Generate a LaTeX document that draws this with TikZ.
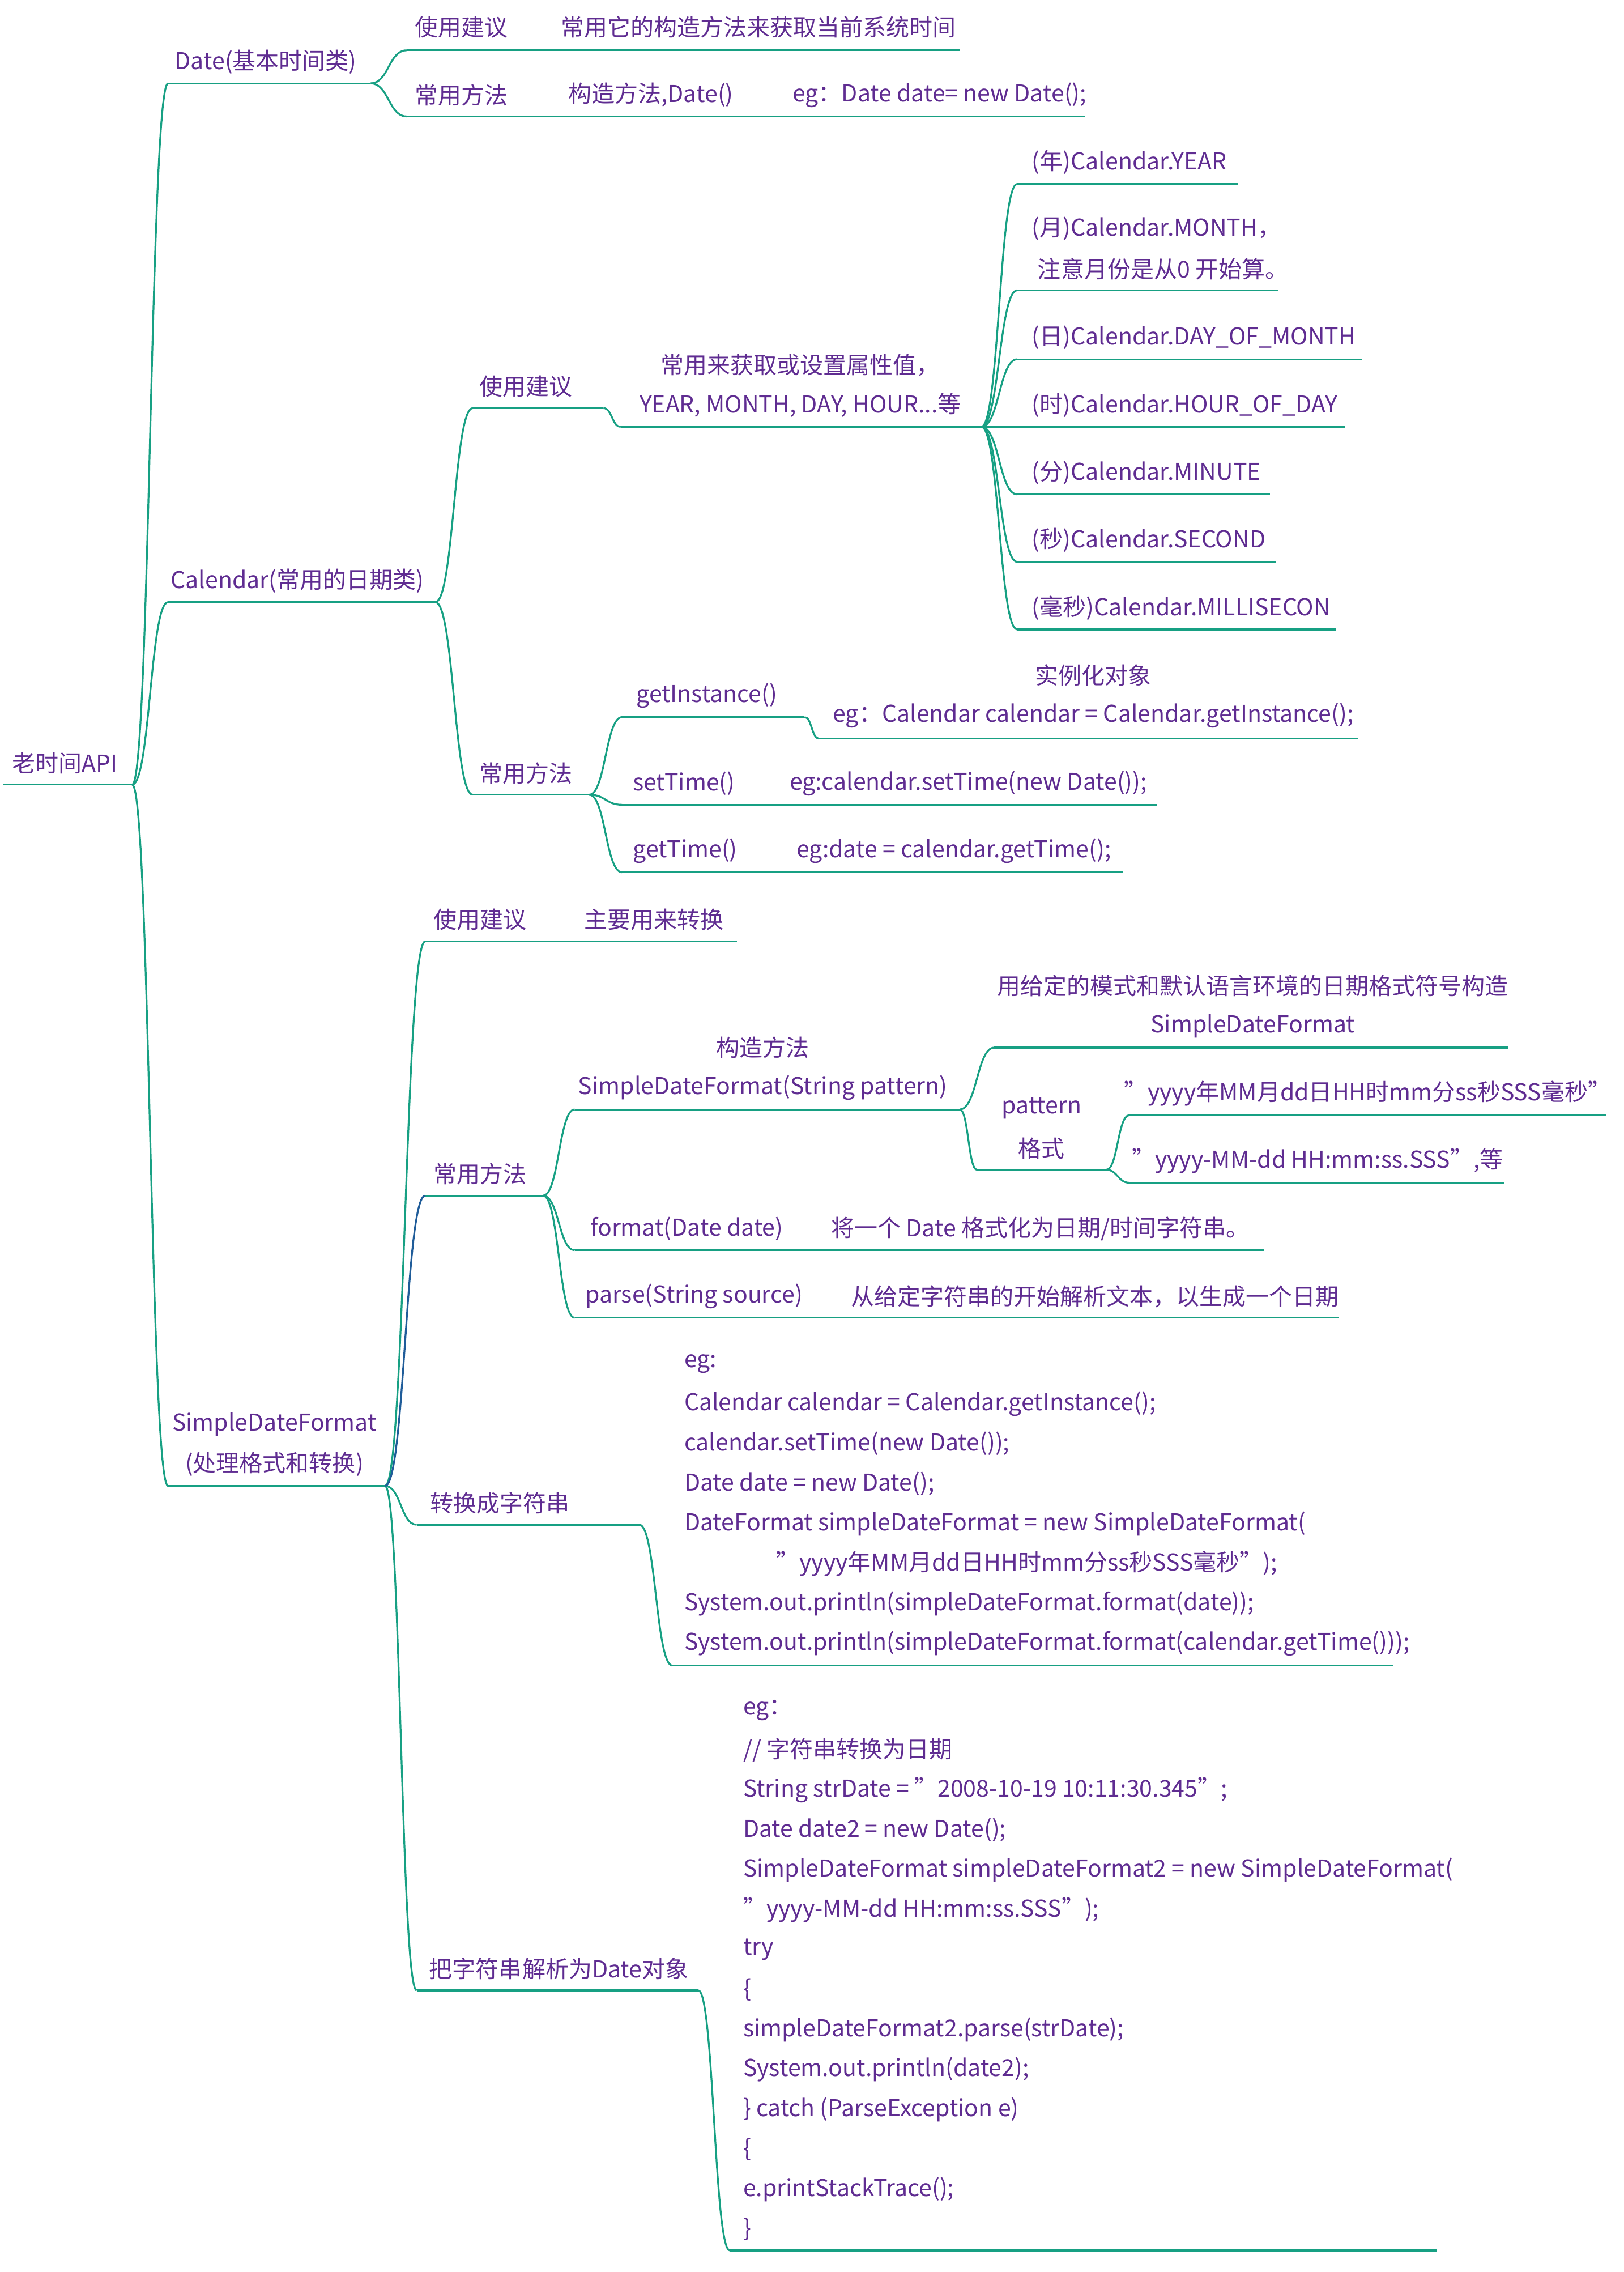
\documentclass[tikz,border=0pt]{standalone}
\usepackage{fontspec}
\setmainfont{Noto Sans CJK SC}
\usetikzlibrary{calc}
\definecolor{mytext}{HTML}{5F2C91}
\definecolor{myline}{HTML}{17A083}
\definecolor{myblue}{HTML}{1F5C99}
\tikzset{
  lbl/.style={text=mytext, inner sep=0pt, font=\fontsize{11.5}{14}\selectfont},
  code/.style={lbl, anchor=west},
  bar/.style={draw=myline, line width=0.9pt},
  branch/.style={bar, to path={let \p1=(\tikztostart), \p2=(\tikztotarget) in
      .. controls (\x1/2+\x2/2,\y1) and (\x1/2+\x2/2,\y2) .. (\p2)}}
}
% underline with named ends: \twig{name}{x start}{x end}{y}
\newcommand{\twig}[4]{%
  \coordinate (#1-s) at (#2,#4); \coordinate (#1-e) at (#3,#4);
  \draw[bar] (#1-s) -- (#1-e);}
\begin{document}
\begin{tikzpicture}[x=0.025cm,y=-0.025cm]
  \useasboundingbox (0,0) rectangle (1130,1581);

  % root
  \twig{root}{2}{92}{546}
  \node[lbl] (rootT) at (45,531) {老时间API};

  % Date
  \twig{date}{117}{258}{58}
  \node[lbl] (dateT) at (185,43) {Date(基本时间类)};
  \twig{dateA}{283}{668}{35}
  \node[lbl] (dateAT) at (321,19) {使用建议};
  \node[lbl] (dateAX) at (528,19) {常用它的构造方法来获取当前系统时间};
  \twig{dateB}{283}{755}{81}
  \node[lbl] (dateBT) at (321,66) {常用方法};
  \node[lbl] (dateBX) at (453,66) {构造方法,Date()};
  \node[lbl] (dateBY) at (654,66) {eg：Date date= new Date();};

  % Calendar
  \twig{cal}{117}{303}{419}
  \node[lbl] (calT) at (207,404) {Calendar(常用的日期类)};
  \twig{calA}{329}{420}{284}
  \node[lbl] (calAT) at (366,269) {使用建议};
  \twig{calAA}{432}{683}{297}
  \node[lbl] (calAAT) at (557,254) {常用来获取或设置属性值，};
  \node[lbl] (calAAU) at (557,282) {YEAR, MONTH, DAY, HOUR...等};
  \twig{f1}{708}{862}{128}
  \node[code] (f1T) at (718,113) {(年)Calendar.YEAR};
  \twig{f2}{708}{890}{202}
  \node[code] (f2T) at (718,159) {(月)Calendar.MONTH，};
  \node[code] (f2U) at (722,187) {注意月份是从0 开始算。};
  \twig{f3}{708}{948}{250}
  \node[code] (f3T) at (718,235) {(日)Calendar.DAY\_OF\_MONTH};
  \twig{f4}{708}{936}{297}
  \node[code] (f4T) at (718,282) {(时)Calendar.HOUR\_OF\_DAY};
  \twig{f5}{708}{884}{344}
  \node[code] (f5T) at (718,329) {(分)Calendar.MINUTE};
  \twig{f6}{708}{888}{391}
  \node[code] (f6T) at (718,376) {(秒)Calendar.SECOND};
  \twig{f7}{708}{930}{438}
  \node[code] (f7T) at (718,423) {(毫秒)Calendar.MILLISECON};
  \twig{calB}{329}{410}{553}
  \node[lbl] (calBT) at (366,538) {常用方法};
  \twig{gi}{433}{560}{499}
  \node[lbl] (giT) at (492,484) {getInstance()};
  \twig{giX}{570}{945}{514}
  \node[lbl] (giXT) at (761,470) {实例化对象};
  \node[lbl] (giXU) at (761,498) {eg：Calendar calendar = Calendar.getInstance();};
  \twig{st}{433}{805}{560}
  \node[lbl] (stT) at (476,545) {setTime()};
  \node[lbl] (stX) at (674,545) {eg:calendar.setTime(new Date());};
  \twig{gt}{433}{782}{607}
  \node[lbl] (gtT) at (477,592) {getTime()};
  \node[lbl] (gtX) at (664,592) {eg:date = calendar.getTime();};

  % SimpleDateFormat
  \twig{sdf}{117}{268}{1034}
  \node[lbl] (sdfT) at (191,991) {SimpleDateFormat};
  \node[lbl] (sdfU) at (191,1019) {(处理格式和转换)};
  \twig{sdfA}{296}{513}{655}
  \node[lbl] (sdfAT) at (334,640) {使用建议};
  \node[lbl] (sdfAX) at (455,640) {主要用来转换};
  \twig{sdfB}{296}{378}{832}
  \node[lbl] (sdfBT) at (334,817) {常用方法};
  \twig{ctor}{400}{668}{772}
  \node[lbl] (ctorT) at (531,729) {构造方法};
  \node[lbl] (ctorU) at (531,757) {SimpleDateFormat(String pattern)};
  \twig{ctorX}{692}{1050}{729}
  \node[lbl] (ctorXT) at (872,686) {用给定的模式和默认语言环境的日期格式符号构造};
  \node[lbl] (ctorXU) at (872,714) {SimpleDateFormat};
  \twig{pat}{680}{770}{814}
  \node[lbl] (patT) at (725,771) {pattern};
  \node[lbl] (patU) at (725,799) {格式};
  \twig{p1}{786}{1118}{776}
  \node[lbl] (p1T) at (952,761) {"yyyy年MM月dd日HH时mm分ss秒SSS毫秒"};
  \twig{p2}{786}{1047}{823}
  \node[lbl] (p2T) at (917,808) {"yyyy-MM-dd HH:mm:ss.SSS",等};
  \twig{fmt}{400}{880}{870}
  \node[lbl] (fmtT) at (478,855) {format(Date date)};
  \node[lbl] (fmtX) at (724,855) {将一个 Date 格式化为日期/时间字符串。};
  \twig{prs}{400}{932}{917}
  \node[lbl] (prsT) at (483,902) {parse(String source)};
  \node[lbl] (prsX) at (762,902) {从给定字符串的开始解析文本，以生成一个日期};
  \twig{toS}{290}{445}{1061}
  \node[lbl] (toST) at (348,1046) {转换成字符串};
  \twig{toSX}{468}{970}{1159}
  \foreach \t [count=\i from 0] in {eg:,
      Calendar calendar = Calendar.getInstance();,
      calendar.setTime(new Date());,
      Date date = new Date();,
      DateFormat simpleDateFormat = new SimpleDateFormat(,
      \hspace{1.6cm}"yyyy年MM月dd日HH时mm分ss秒SSS毫秒");,
      System.out.println(simpleDateFormat.format(date));,
      System.out.println(simpleDateFormat.format(calendar.getTime()));}
    \node[code] (toSL\i) at (476,949+27.8*\i) {\t};
  \twig{toD}{290}{486}{1385}
  \node[lbl] (toDT) at (389,1370) {把字符串解析为Date对象};
  \twig{toDX}{508}{1000}{1566}
  \foreach \t [count=\i from 0] in {eg：,
      // 字符串转换为日期,
      String strDate = "2008-10-19 10:11:30.345";,
      Date date2 = new Date();,
      SimpleDateFormat simpleDateFormat2 = new SimpleDateFormat(,
      "yyyy-MM-dd HH:mm:ss.SSS");,
      try, \{, simpleDateFormat2.parse(strDate);,
      System.out.println(date2);,
      \} catch (ParseException e), \{,
      e.printStackTrace();, \}}
    \node[code] (toDL\i) at (517,1190+27.8*\i) {\t};

  % connectors
  \foreach \a/\b in {root/date, root/cal, root/sdf, date/dateA, date/dateB,
      cal/calA, cal/calB, calA/calAA, calAA/f1, calAA/f2, calAA/f3, calAA/f4,
      calAA/f5, calAA/f6, calAA/f7, calB/gi, calB/st, calB/gt, gi/giX,
      sdf/sdfA, sdf/toS, sdf/toD, sdfB/ctor, sdfB/fmt, sdfB/prs,
      ctor/ctorX, ctor/pat, pat/p1, pat/p2, toS/toSX, toD/toDX}
    \draw[branch] (\a-e) to (\b-s);
  \draw[branch, draw=myblue] (sdf-e) to (sdfB-s);
\end{tikzpicture}
\end{document}
